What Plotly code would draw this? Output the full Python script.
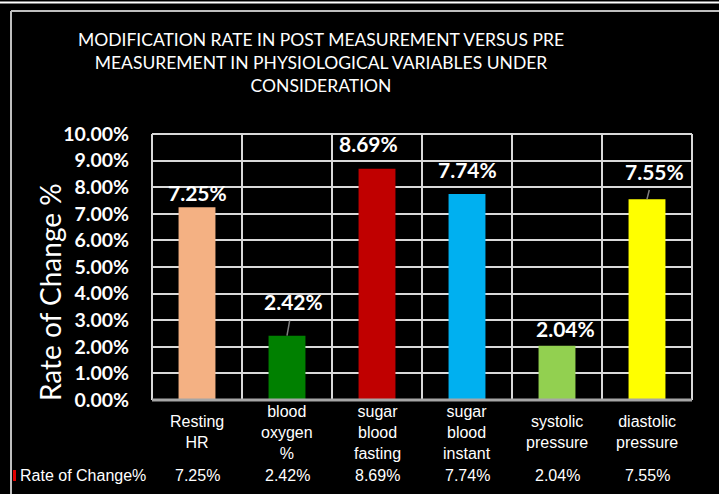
import plotly.graph_objects as go

# ---- data ----
categories = ["Resting<br>HR", "blood<br>oxygen<br>%", "sugar<br>blood<br>fasting",
              "sugar<br>blood<br>instant", "systolic<br>pressure", "diastolic<br>pressure"]
rate_of_change = [0.0725, 0.0242, 0.0869, 0.0774, 0.0204, 0.0755]
series_name = "Rate of Change%"
bar_colors = ["#F4B183", "#008000", "#C00000", "#00B0F0", "#92D050", "#FFFF00"]
title_text = ("MODIFICATION RATE IN POST MEASUREMENT VERSUS PRE<br>"
              "MEASUREMENT IN PHYSIOLOGICAL VARIABLES UNDER<br>CONSIDERATION")
y_title = "Rate of Change %"

# ---- layout geometry (pixels) ----
W, H = 719, 494
L, R, T, B = 152, 692, 134, 400
PW, PH = R - L, B - T


def px(x):
    return (x - L) / PW


def py(y):
    return (B - y) / PH


fig = go.Figure()
fig.add_trace(go.Bar(
    x=categories, y=rate_of_change, marker=dict(color=bar_colors, line=dict(width=0)),
    width=0.41, name=series_name, showlegend=False, hoverinfo="skip",
))

# data labels: (xshift, yshift in px, leader line)
label_style = [(0, 15, False), (6, 34, True), (-9, 25, False),
               (0, 25, False), (8, 17, False), (7, 28, True)]
for cat, v, (dx, dy, leader) in zip(categories, rate_of_change, label_style):
    txt = f"{v*100:.2f}%"
    if leader:
        fig.add_annotation(x=cat, y=v, text=txt, showarrow=True, arrowhead=0,
                           arrowwidth=1.5, arrowcolor="#808080", ax=dx, ay=-dy,
                           startstandoff=5,
                           font=dict(family="Lato", size=21, color="white", weight="bold"))
    else:
        fig.add_annotation(x=cat, y=v, text=txt, showarrow=False, xshift=dx, yshift=dy,
                           yanchor="middle",
                           font=dict(family="Lato", size=21, color="white", weight="bold"))

# category labels and data table row
for cat, v in zip(categories, rate_of_change):
    fig.add_annotation(x=cat, y=py(432), yref="paper", text=cat, showarrow=False,
                       yanchor="middle", align="center",
                       font=dict(family="Liberation Sans", size=16, color="white"))
    fig.add_annotation(x=cat, y=py(476), yref="paper", text=f"{v*100:.2f}%",
                       showarrow=False, yanchor="middle",
                       font=dict(family="Liberation Sans", size=16, color="white"))
fig.add_annotation(x=px(18), xref="paper", y=py(476), yref="paper", text=series_name,
                   showarrow=False, xanchor="left", yanchor="middle",
                   font=dict(family="Liberation Sans", size=16, color="white"))

# y axis title
fig.add_annotation(x=px(50), xref="paper", y=py(292), yref="paper", text=y_title,
                   textangle=-90, showarrow=False, xanchor="center", yanchor="middle",
                   font=dict(family="Lato", size=28, color="white"))

shapes = [
    # legend key marker in table
    dict(type="rect", xref="paper", yref="paper", x0=px(13), x1=px(16), y0=py(481), y1=py(470),
         fillcolor="#E00000", line=dict(width=0)),
    # plot frame
    dict(type="line", xref="paper", yref="paper", x0=0, x1=1, y0=1, y1=1,
         line=dict(color="#D9D9D9", width=2)),
    dict(type="line", xref="paper", yref="paper", x0=1, x1=1, y0=0, y1=1,
         line=dict(color="#D9D9D9", width=2)),
    dict(type="line", xref="paper", yref="paper", x0=0, x1=0, y0=0, y1=1,
         line=dict(color="#D9D9D9", width=2)),
    dict(type="line", xref="paper", yref="paper", x0=0, x1=1, y0=0, y1=0,
         line=dict(color="#A6A6A6", width=3)),
    # outer border
    dict(type="line", xref="paper", yref="paper", x0=px(0), x1=px(W), y0=py(2.5), y1=py(2.5),
         line=dict(color="#FFFFFF", width=2)),
    dict(type="line", xref="paper", yref="paper", x0=px(11), x1=px(W), y0=py(11), y1=py(11),
         line=dict(color="#BFBFBF", width=2)),
    dict(type="line", xref="paper", yref="paper", x0=px(11), x1=px(11), y0=py(11), y1=py(H),
         line=dict(color="#BFBFBF", width=2)),
]

fig.update_layout(
    width=W, height=H,
    margin=dict(l=L, r=W - R, t=T, b=H - B),
    paper_bgcolor="black", plot_bgcolor="black",
    title=dict(text=title_text, x=321 / W, xanchor="center", y=1 - 46 / H, yanchor="top",
               yref="container",
               font=dict(family="Lato", size=17.5, color="white")),
    bargap=0.59,
    shapes=shapes,
    hovermode=False,
    xaxis=dict(showticklabels=False, tickson="boundaries", showgrid=True, automargin=False,
               gridcolor="#D9D9D9", gridwidth=2, ticks="", zeroline=False, showline=False),
    yaxis=dict(range=[0, 0.10], dtick=0.01, tickformat=".2%", showgrid=True, automargin=False,
               gridcolor="#D9D9D9", gridwidth=2, zeroline=False, showline=False,
               ticklabelstandoff=22,
               tickfont=dict(family="Lato", size=19.5, color="white", weight="bold")),
)

fig.write_html("out.html", config={"displayModeBar": False},
               post_script="document.body.style.margin='0';")
